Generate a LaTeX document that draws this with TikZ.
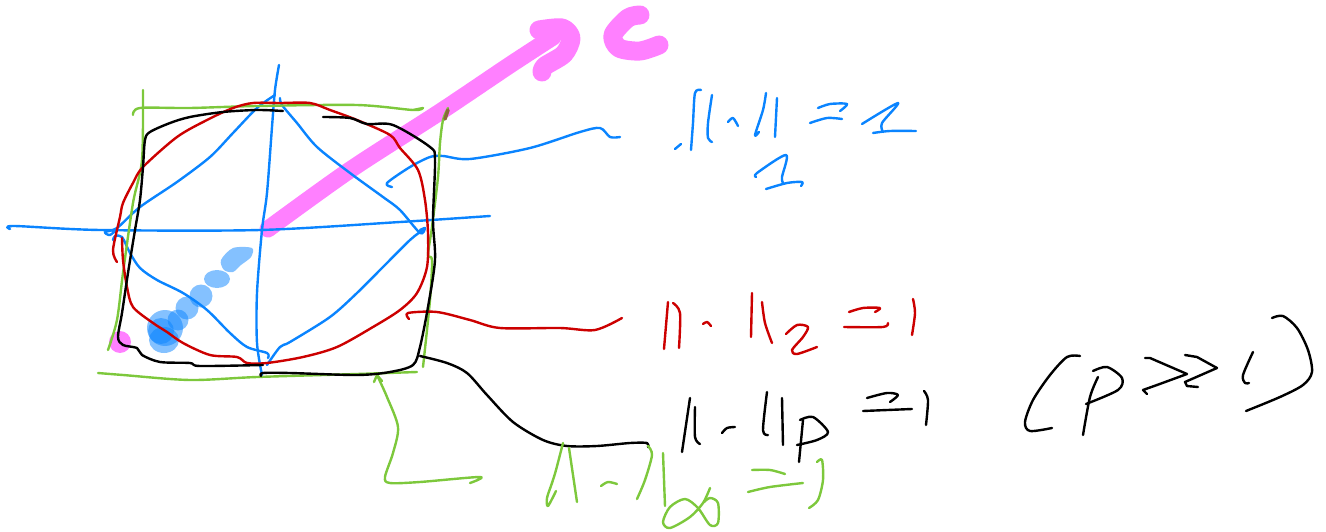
\documentclass[tikz,border=0pt]{standalone}
\usepackage{xcolor}
\usepackage{tikz}
\definecolor{inkblue}{HTML}{0A84FF}
\definecolor{inkred}{HTML}{CC0000}
\definecolor{inkgreen}{HTML}{7DC83C}
\definecolor{inkpink}{HTML}{FF80FF}
\definecolor{inkbrown}{HTML}{8A6A3A}

\begin{document}
\begin{tikzpicture}[
  x=1pt, y=-1pt,
  pen/.style ={line cap=round, line join=round, line width=2.4pt},
  bluepen/.style ={pen, inkblue},
  redpen/.style  ={pen, inkred},
  blackpen/.style={pen, black},
  greenpen/.style={pen, inkgreen},
  pinkpen/.style ={pen, inkpink, line width=17pt},
  blob/.style    ={fill=inkblue, opacity=0.5}
]
\useasboundingbox (0,0) rectangle (1326,532);

\draw[pinkpen] plot[smooth] coordinates {(268,229) (350,170) (440,112) (510,65) (553,37)};
\draw[pinkpen, line width=19pt] plot[smooth] coordinates {(539,30) (562,28) (571,38) (564,54) (545,66) (542,72)};
\draw[pinkpen, line width=19pt] plot[smooth] coordinates {(640,15) (628,18) (613,35) (619,48) (640,51) (659,45)};
\fill[inkpink] (120,342) circle (11);

\fill[blob] plot[smooth cycle] coordinates {(233,248) (252,248) (251,257) (241,265) (233,272) (224,270) (221,260)};
\fill[blob] (217,279) ellipse (13 and 9);
\fill[blob] (201,296) circle (11.5);
\fill[blob] (187,308) circle (11.5);
\fill[blob] (178,320) circle (10.5);
\fill[blob] (165,328) circle (18);
\fill[blob] (161,331) circle (13);
\fill[blob] (164,340) ellipse (15 and 13);

\draw[bluepen] plot[smooth] coordinates {(10,229) (14,226) (100,230) (260,230) (400,222) (490,216)};
\draw[bluepen] plot[smooth] coordinates {(279,65) (275,90) (272,127) (267,193) (262,230) (257,293) (257,343) (262,375)};
\draw[bluepen] plot[smooth] coordinates {(275,95) (257,108) (233,133) (210,157) (177,182) (140,207) (117,228) (105,232) (110,235) (117,229)};
\draw[bluepen] plot[smooth] coordinates {(280,98) (282,105) (297,123) (317,147) (350,173) (383,197) (400,210) (420,233) (425,228) (420,230)};
\draw[bluepen] plot[smooth] coordinates {(423,230) (410,240) (383,267) (357,293) (330,317) (290,342) (280,347) (267,365)};
\draw[bluepen] plot[smooth] coordinates {(113,240) (115,236) (122,237) (130,253) (140,268) (157,280) (183,293) (207,310) (230,333) (247,347) (267,353) (268,358)};
\draw[bluepen] plot[smooth] coordinates {(392,187) (387,183) (410,167) (430,157) (443,156) (470,159) (530,148) (580,132) (600,128) (610,137) (620,137)};

\draw[greenpen] plot[smooth] coordinates {(133,115) (140,108) (190,108) (257,106) (357,105) (413,110) (423,108) (413,110)};
\draw[greenpen] plot[smooth] coordinates {(143,90) (142,160) (133,203) (123,273) (117,320) (108,350)};
\draw[greenpen] plot[smooth] coordinates {(448,108) (443,120) (440,143) (438,177) (432,227) (428,255) (432,260) (430,300) (423,367)};
\draw[greenpen] plot[smooth] coordinates {(98,373) (123,375) (190,380) (257,377) (357,374) (417,372)};
\draw[inkbrown, pen, line width=3.5pt] (448,110) -- (445,119);

\draw[greenpen] plot[smooth] coordinates {(377,375) (387,397) (398,427) (393,453) (385,477) (390,483) (420,482) (480,477) (470,483)};
\draw[greenpen] (374,382) -- (377,375) -- (382,381);

\draw[redpen] plot[smooth] coordinates {(117,262) (113,250) (120,217) (123,203) (133,183) (143,167) (177,137) (207,120) (233,108) (253,103) (280,103) (310,103) (330,110) (357,120) (390,135) (400,148) (418,170) (425,200) (428,233) (427,267) (417,293) (400,310) (373,327) (337,347) (303,357) (267,363) (247,363) (237,357) (210,355) (183,343) (167,332) (153,323) (133,307) (127,287) (123,260) (122,238)};
\draw[redpen] plot[smooth] coordinates {(409,319) (408,313) (437,312) (470,320) (500,328) (560,328) (595,330) (622,318)};

\draw[blackpen] plot[smooth] coordinates {(283,111) (257,110) (223,112) (190,117) (170,123) (150,132) (145,140) (143,167) (140,200) (135,230) (128,273) (122,313) (118,337) (123,345) (137,348) (142,355) (160,362) (190,363) (200,366) (263,365)};
\draw[blackpen] plot[smooth] coordinates {(323,117) (350,118) (367,124) (393,125) (430,147) (435,160) (433,220) (435,260) (428,307) (420,347) (413,365) (390,372) (357,375) (290,373) (263,373) (261,376)};
\draw[blackpen] plot[smooth] coordinates {(420,356) (447,363) (467,373) (487,395) (513,422) (543,440) (567,446) (597,446) (630,443) (647,443) (648,447)};

\draw[bluepen] (675,149) -- (681,144);
\draw[bluepen] plot[smooth] coordinates {(701,90) (695,93) (693,123) (691,150)};
\draw[bluepen] plot[smooth] coordinates {(712,95) (708,123) (708,138) (712,142)};
\draw[bluepen] plot[smooth] coordinates {(728,122) (733,118) (738,126)};
\draw[bluepen] plot[smooth] coordinates {(766,93) (763,110) (755,135) (759,132)};
\draw[bluepen] (777,98) -- (775,137);
\draw[bluepen] plot[smooth] coordinates {(818,108) (830,104) (847,104) (840,111)};
\draw[bluepen] plot[smooth] coordinates {(810,123) (827,118) (842,119)};
\draw[bluepen] plot[smooth] coordinates {(862,124) (898,103) (882,123) (883,132)};
\draw[bluepen] plot[smooth] coordinates {(873,133) (890,131) (916,131)};
\draw[bluepen] plot[smooth] coordinates {(756,177) (757,173) (786,155) (782,177) (783,183)};
\draw[bluepen] plot[smooth] coordinates {(766,189) (787,183) (802,182) (801,186)};

\draw[redpen] (668,302) -- (664,349);
\draw[redpen] plot[smooth] coordinates {(673,303) (680,313) (679,348)};
\draw[redpen] plot[smooth] coordinates {(703,324) (707,322) (711,326)};
\draw[redpen] (752,293) -- (751,337);
\draw[redpen] plot[smooth] coordinates {(762,302) (765,323) (772,343)};
\draw[redpen] plot[smooth] coordinates {(786,334) (797,325) (808,327) (803,337) (792,350) (797,354) (817,347)};
\draw[redpen] plot[smooth] coordinates {(849,312) (863,308) (880,308) (875,312)};
\draw[redpen] plot[smooth] coordinates {(844,327) (883,327) (888,323)};
\draw[redpen] plot[smooth] coordinates {(913,299) (915,313) (912,335)};

\draw[blackpen] (690,398) -- (682,452);
\draw[blackpen] plot[smooth] coordinates {(695,407) (695,437) (700,444)};
\draw[blackpen] plot[smooth] coordinates {(722,433) (727,428) (735,427)};
\draw[blackpen] plot[smooth] coordinates {(767,392) (763,430) (768,435)};
\draw[blackpen] (782,398) -- (783,445);
\draw[blackpen] (803,420) -- (799,462);
\draw[blackpen] plot[smooth] coordinates {(800,420) (813,417) (828,432) (817,440) (797,445)};
\draw[blackpen] plot[smooth] coordinates {(867,398) (887,393) (898,395) (890,402)};
\draw[blackpen] (863,411) -- (912,409);
\draw[blackpen] plot[smooth] coordinates {(924,391) (928,400) (926,425)};

\draw[blackpen] plot[smooth] coordinates {(1080,356) (1067,357) (1050,375) (1033,400) (1025,422) (1030,431) (1052,428)};
\draw[blackpen] plot[smooth] coordinates {(1098,377) (1090,397) (1083,435)};
\draw[blackpen] plot[smooth] coordinates {(1093,371) (1107,367) (1122,378) (1118,390) (1086,404)};
\draw[blackpen] (1145,358) -- (1150,358) -- (1187,374) -- (1157,385) -- (1143,390) -- (1147,394);
\draw[blackpen] (1185,355) -- (1197,357) -- (1217,368) -- (1185,382) -- (1187,386) -- (1198,387);
\draw[blackpen] plot[smooth] coordinates {(1253,352) (1243,375) (1245,383) (1249,383)};
\draw[blackpen] plot[smooth] coordinates {(1272,318) (1283,316) (1297,328) (1308,350) (1312,372) (1303,385) (1280,397) (1246,411)};

\draw[greenpen] plot[smooth] coordinates {(563,443) (556,470) (552,483) (547,498) (548,506) (556,491)};
\draw[greenpen] (569,448) -- (577,502);
\draw[greenpen] plot[smooth] coordinates {(601,486) (608,482) (617,484)};
\draw[greenpen] plot[smooth] coordinates {(648,446) (652,455) (645,480) (637,499)};
\draw[greenpen] (663,453) -- (665,506);
\draw[greenpen] plot[smooth] coordinates {(710,488) (703,503) (690,517) (670,528) (663,522) (670,507) (685,499) (698,508) (710,525) (718,523) (718,503) (710,498) (703,503)};
\draw[greenpen] plot[smooth] coordinates {(752,470) (770,470) (785,474)};
\draw[greenpen] plot[smooth] coordinates {(748,492) (770,487) (803,483)};
\draw[greenpen] plot[smooth] coordinates {(817,462) (822,460) (823,480) (818,500) (809,508)};
\end{tikzpicture}
\end{document}
